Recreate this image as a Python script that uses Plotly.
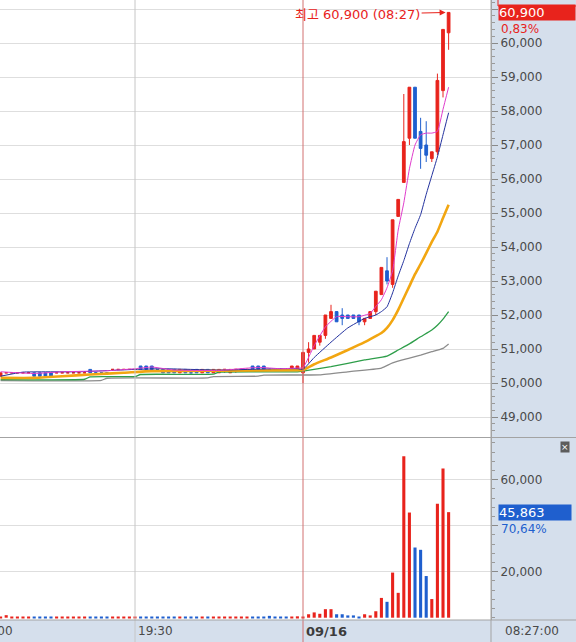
import plotly.graph_objects as go

RED = '#e8231c'
BLUE = '#1f5fce'
PANEL = '#d5dfec'
GRID = '#dedede'
BORDER = '#a3a3a3'

# 1분봉: 전일 19:06~19:59, 09/16 08:01~08:27
times = [f"19:{m:02d}" for m in range(6, 60)] + [f"08:{m:02d}" for m in range(1, 28)]

opens = [
    50200, 50300, 50300, 50300, 50300, 50300, 50300, 50300, 50300, 50300,
    50300, 50300, 50300, 50300, 50300, 50300, 50400, 50300, 50300, 50300,
    50400, 50400, 50400, 50400, 50400, 50500, 50500, 50500, 50400, 50400,
    50400, 50400, 50300, 50400, 50300, 50400, 50300, 50400, 50300, 50300,
    50400, 50300, 50400, 50400, 50400, 50500, 50500, 50500, 50400, 50400,
    50400, 50400, 50400, 50400,
    # 09/16
    50300, 50900, 51000, 51200, 51400, 51900, 52100, 52000, 52000, 52000,
    52000, 51800, 51900, 52100, 52600, 53300, 52900, 54900, 55900, 57200,
    58700, 57400, 57000, 56600, 56800, 58600, 60300,
]
highs = [
    50300, 50300, 50300, 50300, 50300, 50300, 50300, 50300, 50300, 50300,
    50300, 50300, 50300, 50300, 50300, 50300, 50400, 50300, 50300, 50300,
    50400, 50400, 50400, 50400, 50400, 50500, 50500, 50500, 50400, 50400,
    50400, 50400, 50400, 50400, 50300, 50400, 50400, 50400, 50400, 50400,
    50400, 50400, 50400, 50400, 50400, 50500, 50500, 50500, 50400, 50400,
    50400, 50400, 50500, 50500,
    50900, 51200, 51400, 51400, 52000, 52300, 52100, 52200, 52000, 52000,
    52000, 51900, 52100, 52700, 53400, 53700, 54800, 55400, 58500, 58700,
    58700, 57800, 57700, 56800, 59100, 60400, 60900,
]
lows = [
    50200, 50300, 50300, 50300, 50300, 50300, 50200, 50200, 50200, 50200,
    50300, 50300, 50300, 50300, 50300, 50300, 50300, 50300, 50300, 50300,
    50400, 50400, 50400, 50400, 50400, 50400, 50400, 50400, 50400, 50300,
    50300, 50300, 50300, 50300, 50300, 50300, 50300, 50300, 50300, 50300,
    50300, 50400, 50300, 50400, 50400, 50400, 50400, 50400, 50400, 50400,
    50400, 50400, 50400, 50400,
    50000, 50600, 51000, 51100, 51300, 51900, 51800, 51700, 51900, 51900,
    51700, 51700, 51900, 52000, 52600, 52900, 52800, 54900, 55900, 57000,
    57200, 56300, 56500, 56500, 56700, 58400, 59800,
]
closes = [
    50300, 50300, 50300, 50300, 50300, 50300, 50200, 50200, 50200, 50200,
    50300, 50300, 50300, 50300, 50300, 50300, 50300, 50300, 50300, 50300,
    50400, 50400, 50400, 50400, 50400, 50400, 50400, 50400, 50400, 50300,
    50300, 50300, 50400, 50300, 50300, 50300, 50400, 50300, 50400, 50400,
    50400, 50400, 50400, 50400, 50400, 50400, 50400, 50400, 50400, 50400,
    50400, 50400, 50500, 50500,
    50900, 51000, 51400, 51400, 52000, 52100, 51800, 51900, 51900, 51900,
    51800, 51900, 52100, 52700, 53400, 53000, 54800, 55400, 57100, 58700,
    57200, 56900, 56700, 56800, 58900, 60400, 60900,
]
volumes = [
    450, 1100, 400, 350, 450, 400, 500, 450, 400, 450,
    350, 400, 350, 450, 400, 350, 500, 450, 400, 350,
    400, 450, 350, 400, 450, 500, 450, 400, 350, 450,
    400, 450, 350, 400, 450, 350, 400, 450, 400, 350,
    450, 400, 350, 400, 450, 400, 450, 500, 800, 450,
    400, 350, 500, 600,
    500, 1500, 2300, 1700, 3700, 3700, 1500, 1500, 1000, 1000,
    400, 1500, 1000, 2800, 8600, 6900, 19600, 10800, 70200, 45700,
    30500, 29500, 18100, 8100, 49500, 64800, 45863,
]

# 이동평균선
ma5_t = ["19:06", "19:12", "19:17", "19:25", "19:30", "19:33", "19:37", "19:45", "19:52", "19:56", "19:59",
         "08:01", "08:03", "08:05", "08:07", "08:09", "08:11", "08:13", "08:14", "08:15", "08:16", "08:17",
         "08:18", "08:19", "08:20", "08:21", "08:22", "08:23", "08:24", "08:25", "08:26", "08:27"]
ma5_v = [50330, 50280, 50330, 50360, 50420, 50470, 50380, 50370, 50460, 50420, 50440,
         50450, 51100, 51650, 51950, 51950, 51950, 52050, 52250, 52450, 52800, 53300,
         54500, 55300, 56300, 57000, 57300, 57350, 57350, 57400, 58050, 58700]

ma10_t = ["19:06", "19:10", "19:20", "19:30", "19:35", "19:45", "19:55", "19:59",
          "08:01", "08:03", "08:06", "08:09", "08:12", "08:14", "08:15", "08:16", "08:17", "08:18",
          "08:19", "08:20", "08:21", "08:22", "08:23", "08:24", "08:25", "08:26", "08:27"]
ma10_v = [50200, 50320, 50330, 50400, 50420, 50380, 50420, 50420,
          50400, 50750, 51200, 51620, 51900, 52000, 52100, 52240, 52650, 53150,
          53600, 54100, 54550, 54950, 55550, 56100, 56650, 57300, 57950]

ma20_t = ["19:06", "19:12", "19:17", "19:22", "19:28", "19:33", "19:45", "19:59",
          "08:01", "08:03", "08:06", "08:09", "08:12", "08:14", "08:15", "08:16", "08:17", "08:18",
          "08:19", "08:20", "08:21", "08:22", "08:23", "08:24", "08:25", "08:26", "08:27"]
ma20_v = [50150, 50150, 50200, 50250, 50300, 50350, 50360, 50380,
          50380, 50550, 50750, 50970, 51200, 51380, 51470, 51620, 51850, 52150,
          52500, 52850, 53200, 53500, 53820, 54150, 54450, 54850, 55240]

ma60_t = ["19:06", "19:21", "19:22", "19:30", "19:31", "19:44", "19:45", "19:59",
          "08:01", "08:06", "08:12", "08:16", "08:18", "08:20", "08:22", "08:24", "08:25", "08:26", "08:27"]
ma60_v = [50100, 50110, 50180, 50190, 50250, 50260, 50320, 50330,
          50350, 50480, 50680, 50790, 50970, 51150, 51360, 51560, 51700, 51880, 52100]

ma120_t = ["19:06", "19:24", "19:25", "19:43", "19:44", "19:52", "19:53", "19:59",
           "08:01", "08:04", "08:09", "08:15", "08:17", "08:20", "08:22", "08:24", "08:26", "08:27"]
ma120_v = [50070, 50080, 50140, 50150, 50190, 50200, 50230, 50235,
           50235, 50240, 50330, 50440, 50590, 50730, 50820, 50920, 51020, 51150]

# 봉 방향 (plotly 규칙과 동일: 시가=종가면 전봉 종가와 비교)
up = []
prev_c, prev_up = None, True
for o, c in zip(opens, closes):
    if c != o:
        d = c > o
    elif prev_c is not None and c != prev_c:
        d = c > prev_c
    else:
        d = prev_up
    up.append(d)
    prev_c, prev_up = c, d

fig = go.Figure()

fig.add_trace(go.Candlestick(x=times, open=opens, high=highs, low=lows, close=closes,
                             increasing=dict(line=dict(color=RED, width=1), fillcolor=RED),
                             decreasing=dict(line=dict(color=BLUE, width=1), fillcolor=BLUE),
                             whiskerwidth=0, hoverinfo='skip', yaxis='y'))

for t, v, col, w in [(ma120_t, ma120_v, '#8c8c8c', 1.3),
                     (ma60_t, ma60_v, '#2e9e4a', 1.3),
                     (ma20_t, ma20_v, '#f2a611', 2.6),
                     (ma10_t, ma10_v, '#22319e', 1),
                     (ma5_t, ma5_v, '#e03ccc', 1)]:
    fig.add_trace(go.Scatter(x=t, y=v, mode='lines', line=dict(color=col, width=w, shape='spline', smoothing=0.4),
                             hoverinfo='skip', yaxis='y'))

fig.add_trace(go.Bar(x=times, y=volumes, yaxis='y2', width=0.55,
                     marker=dict(color=[RED if u else BLUE for u in up], line=dict(width=0)),
                     hoverinfo='skip'))

PW, PH = 491, 620          # 플롯 영역 (픽셀)
split = (PH - 437.5) / PH  # 가격/거래량 경계

i_1930 = times.index("19:30")
i_0916 = times.index("08:01")

shapes = [
    dict(type='line', xref='x', yref='paper', x0=i_1930, x1=i_1930, y0=-22 / PH, y1=1,
         line=dict(color='#c6c6c6', width=1)),
    dict(type='line', xref='x', yref='paper', x0=i_0916, x1=i_0916, y0=-22 / PH, y1=1,
         line=dict(color='#d27070', width=1)),
    dict(type='line', xref='paper', yref='paper', x0=0, x1=576 / PW, y0=split, y1=split,
         line=dict(color=BORDER, width=1)),
    dict(type='line', xref='paper', yref='paper', x0=0, x1=576 / PW, y0=0, y1=0,
         line=dict(color=BORDER, width=1)),
    dict(type='line', xref='paper', yref='paper', x0=1, x1=1, y0=-22 / PH, y1=1,
         line=dict(color=BORDER, width=1)),
    dict(type='rect', xref='paper', yref='paper', x0=498 / PW, x1=600 / PW,
         y0=(PH - 6) / PH, y1=(PH + 12) / PH, line=dict(color=RED, width=1)),
]

lab_y = -11 / PH
annotations = [
    dict(xref='paper', yref='paper', x=-24.5 / PW, y=lab_y, text='19:00', showarrow=False,
         xanchor='left', yanchor='middle', font=dict(size=12, color='#4a4a4a')),
    dict(xref='x', yref='paper', x=i_1930, y=lab_y, text='19:30', showarrow=False, xshift=1,
         xanchor='left', yanchor='middle', font=dict(size=12, color='#4a4a4a')),
    dict(xref='x', yref='paper', x=i_0916, y=lab_y, text='<b>09/16</b>', showarrow=False, xshift=1,
         xanchor='left', yanchor='middle', font=dict(size=13, color='#3c3c3c')),
    dict(xref='paper', yref='paper', x=503 / PW, y=lab_y, text='08:27:00', showarrow=False,
         xanchor='left', yanchor='middle', font=dict(size=12, color='#4a4a4a')),
    # 최고가 표시
    dict(xref='x', yref='y', x=times[-1], y=max(highs), ax=-91, ay=2, text='최고 60,900 (08:27)',
         showarrow=True, arrowhead=2, arrowsize=1, arrowwidth=1.2, arrowcolor=RED, standoff=3,
         font=dict(family='DejaVu Sans, Noto Sans CJK KR', size=13, color=RED)),
    # 현재가
    dict(xref='paper', yref='y', x=498 / PW, y=closes[-1], text=f"{closes[-1]:,}", showarrow=False,
         xanchor='left', yanchor='middle', align='left', width=76, bgcolor=RED, borderpad=0,
         font=dict(size=13, color='white')),
    dict(xref='paper', yref='y', x=499 / PW, y=closes[-1], yshift=-8, text='0,83%', showarrow=False,
         xanchor='left', yanchor='top', font=dict(size=12, color=RED)),
    # 현재 거래량
    dict(xref='paper', yref='y2', x=498 / PW, y=volumes[-1], text=f"{volumes[-1]:,}", showarrow=False,
         xanchor='left', yanchor='middle', align='left', width=72, bgcolor=BLUE, borderpad=0,
         font=dict(size=13, color='white')),
    dict(xref='paper', yref='y2', x=499 / PW, y=volumes[-1], yshift=-8, text='70,64%', showarrow=False,
         xanchor='left', yanchor='top', font=dict(size=12, color=BLUE)),
    dict(xref='paper', yref='paper', x=565 / PW, y=(PH - 447) / PH, text='×', showarrow=False,
         xanchor='center', yanchor='middle', bgcolor='#5c5c5c', borderpad=0,
         font=dict(size=9, color='white')),
]

price_ticks = list(range(49000, 62000, 1000))
vol_ticks = [20000, 40000, 60000]

fig.update_layout(
    width=576, height=642,
    margin=dict(l=0, r=85, t=0, b=22),
    paper_bgcolor=PANEL, plot_bgcolor='white',
    showlegend=False,
    font=dict(family='DejaVu Sans', size=12, color='#4a4a4a'),
    xaxis=dict(type='category', range=[-0.107, 87.57], anchor='y2', showgrid=False,
               showticklabels=False, ticks='', zeroline=False, showline=False,
               rangeslider=dict(visible=False)),
    yaxis=dict(domain=[split, 1], range=[48397, 61265], side='right', anchor='x',
               tickvals=price_ticks, ticktext=[f"{v:,}" if v < 61000 else '' for v in price_ticks],
               gridcolor=GRID, showline=True, linecolor=BORDER, zeroline=False,
               ticks='outside', ticklen=6, tickcolor='#8a8a8a',
               minor=dict(tickmode='linear', tick0=0, dtick=200, ticks='outside', ticklen=3,
                          tickcolor='#9a9a9a', showgrid=False)),
    yaxis2=dict(domain=[0, split], range=[-1000, 78300], side='right', anchor='x',
                tickvals=vol_ticks, ticktext=['20,000', '', '60,000'],
                gridcolor=GRID, showline=True, linecolor=BORDER, zeroline=False,
                ticks='outside', ticklen=6, tickcolor='#8a8a8a',
                minor=dict(tickmode='linear', tick0=0, dtick=4000, ticks='outside', ticklen=3,
                           tickcolor='#9a9a9a', showgrid=False)),
    shapes=shapes,
    annotations=annotations,
)

# 페이지 기본 여백 제거, 모드바 숨김
fig.write_html("out.html", config={'displayModeBar': False},
               post_script="document.body.style.margin='0';")
